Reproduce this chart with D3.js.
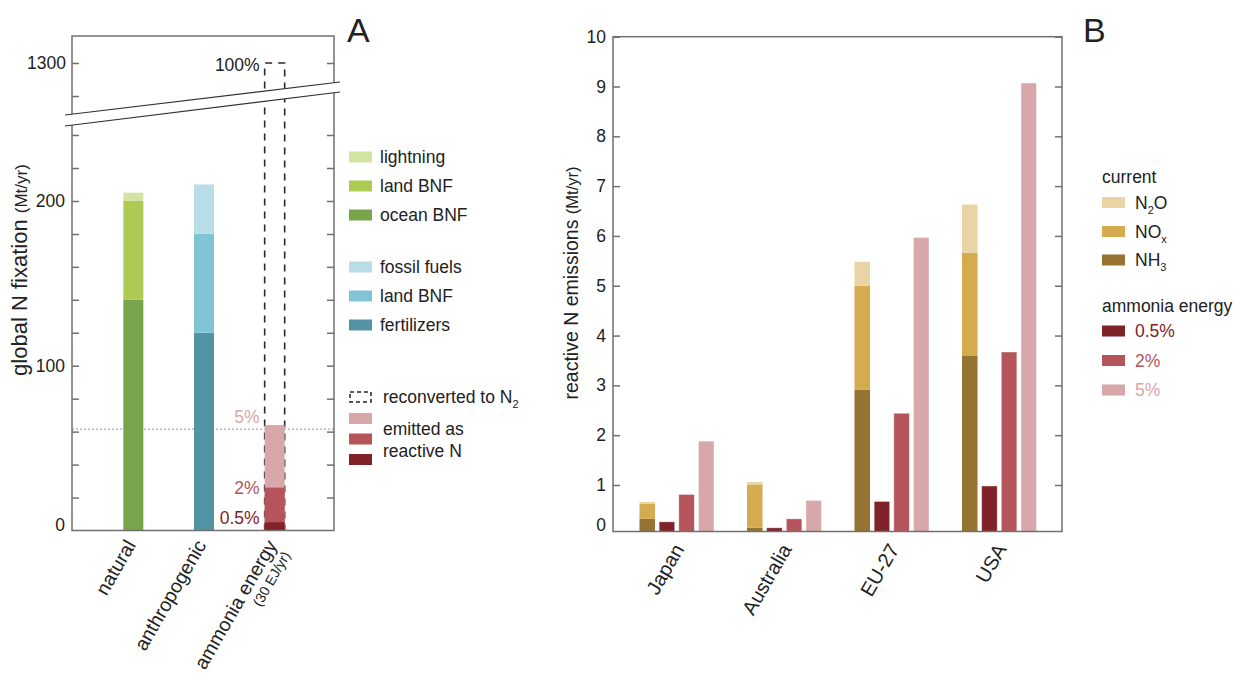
<!DOCTYPE html>
<html>
<head>
<meta charset="utf-8">
<script src="https://cdn.jsdelivr.net/npm/d3@7"></script>
<style>
  body { margin: 0; background: #fff; }
  svg text { font-family: 'Liberation Sans', Arial, sans-serif; fill: #222; }
</style>
</head>
<body>
<div id="chart"></div>
<script>
// #Panel A data: global N fixation (Mt/yr)
const fixCats = ['natural', 'anthropogenic', 'ammonia energy'];
const naturalParts = ['ocean BNF', 'land BNF', 'lightning'];
const naturalVals = [140, 60, 5];
const anthroParts = ['fertilizers', 'land BNF', 'fossil fuels'];
const anthroVals = [120, 60, 30];
const emitShares = ['5%', '2%', '0.5%'];
const emitVals = [64, 26, 5];
const reconvertedTotal = 1300;
const refLevel = 61.5;
const lowTicks = d3.range(0, 241, 20);
const lowLabels = [0, 100, 200];
const highTicks = [1280, 1300];
const highLabels = [1300];

// #Panel B data: reactive N emissions (Mt/yr)
const regions = ['Japan', 'Australia', 'EU-27', 'USA'];
const currentParts = ['NH3', 'NOx', 'N2O'];
const nh3 = [0.32, 0.14, 2.91, 3.59];
const nox = [0.30, 0.86, 2.09, 2.07];
const n2o = [0.04, 0.06, 0.48, 0.97];
const ammoniaShares = ['0.5%', '2%', '5%'];
const ae05 = [0.26, 0.14, 0.67, 0.98];
const ae2 = [0.81, 0.32, 2.44, 3.67];
const ae5 = [1.88, 0.69, 5.97, 9.07];
const emTicks = d3.range(1, 11);

// colours
const naturalColors = ['#78a44c', '#adcb52', '#d3e3a1'];
const anthroColors = ['#5493a4', '#81c4d6', '#b8dde7'];
const shareColors = {'0.5%': '#7f2229', '2%': '#b5545b', '5%': '#d8a7aa'};
const currentColors = {NH3: '#957332', NOx: '#d4ab4e', N2O: '#e8d4a4'};
const frameColor = '#707070';

const w = 1234;
const h = 680;
const svg = d3.select('#chart').append('svg').attr('width', w).attr('height', h);
const defs = svg.append('defs');

// ==================== Panel A ====================
const A = {left: 72, right: 334, top: 36, bottom: 530.5};
const xA = d3.scalePoint().domain(fixCats).range([98, 310]).padding(0.5);
const barA = 20;
const yLow = d3.scaleLinear().domain([0, 240]).range([A.bottom, 135]);
const yHigh = d3.scaleLinear().domain([1280, 1300]).range([96, 63]);

// axis break (two slanted lines)
const brk1 = x => 115 - (x - 65) * 33 / 275;
const brk2 = x => 126 - (x - 65) * 34 / 275;

defs.append('clipPath').attr('id', 'clipLow').append('polygon')
    .attr('points', [[A.left, A.bottom], [A.right, A.bottom], [A.right, brk2(A.right)], [A.left, brk2(A.left)]].join(' '));
defs.append('clipPath').attr('id', 'clipHigh').append('polygon')
    .attr('points', [[A.left, A.top], [A.right, A.top], [A.right, brk1(A.right)], [A.left, brk1(A.left)]].join(' '));

const gA = svg.append('g');

// dotted reference line
gA.append('line')
  .attr('x1', A.left).attr('x2', A.right)
  .attr('y1', yLow(refLevel)).attr('y2', yLow(refLevel))
  .attr('stroke', '#a8a8a8').attr('stroke-width', 1.2).attr('stroke-dasharray', '2,2');

// dashed box: reconverted to N2 (100%)
const xAm = xA('ammonia energy');
gA.append('path')
  .attr('d', `M${xAm - barA / 2},${yLow(0)}V${yHigh(reconvertedTotal)}H${xAm + barA / 2}V${yLow(0)}`)
  .attr('fill', 'none').attr('stroke', '#2a2a2a').attr('stroke-width', 1.6)
  .attr('stroke-dasharray', '7,6');

// stacked bars
function drawStack(cat, parts, vals, colors) {
  const row = Object.fromEntries(parts.map((p, i) => [p, vals[i]]));
  const series = d3.stack().keys(parts)([row]);
  gA.append('g').selectAll('rect')
    .data(series)
    .enter()
    .append('rect')
    .attr('x', xA(cat) - barA / 2)
    .attr('width', barA)
    .attr('y', s => yLow(s[0][1]))
    .attr('height', s => yLow(s[0][0]) - yLow(s[0][1]))
    .attr('fill', (s, i) => colors[i]);
}
drawStack('natural', naturalParts, naturalVals, naturalColors);
drawStack('anthropogenic', anthroParts, anthroVals, anthroColors);

// emitted as reactive N (overlapping bars from 0)
gA.append('g').selectAll('rect')
  .data(emitShares)
  .enter()
  .append('rect')
  .attr('x', xAm - barA / 2)
  .attr('width', barA)
  .attr('y', (d, i) => yLow(emitVals[i]))
  .attr('height', (d, i) => yLow(0) - yLow(emitVals[i]))
  .attr('fill', d => shareColors[d]);

// share labels next to the bar
const shareDy = {'5%': -8, '2%': 0, '0.5%': -4};
gA.append('g').selectAll('text')
  .data(emitShares)
  .enter()
  .append('text')
  .attr('x', xAm - barA / 2 - 5)
  .attr('y', (d, i) => yLow(emitVals[i]) + shareDy[d])
  .attr('dy', '0.35em')
  .attr('text-anchor', 'end')
  .style('font-size', '17.5px')
  .style('fill', d => shareColors[d])
  .text(d => d);

gA.append('text')
  .attr('x', xAm - barA / 2 - 5)
  .attr('y', yHigh(reconvertedTotal) + 2)
  .attr('dy', '0.35em')
  .attr('text-anchor', 'end')
  .style('font-size', '17.5px')
  .text('100%');

// frame + break
gA.append('rect')
  .attr('x', A.left).attr('y', A.top)
  .attr('width', A.right - A.left).attr('height', A.bottom - A.top)
  .attr('fill', 'none').attr('stroke', frameColor).attr('stroke-width', 1.5);
gA.append('polygon')
  .attr('points', [[60, brk1(60)], [346, brk1(346)], [346, brk2(346)], [60, brk2(60)]].join(' '))
  .attr('fill', '#fff');
[brk1, brk2].forEach(f => {
  gA.append('line')
    .attr('x1', 65).attr('y1', f(65)).attr('x2', 340).attr('y2', f(340))
    .attr('stroke', '#333').attr('stroke-width', 1.2);
});

// ticks (inward, both sides), clipped to each axis segment
function styleAxis(g) {
  g.select('.domain').remove();
  g.selectAll('line').attr('stroke', frameColor).attr('stroke-width', 1.5);
  g.selectAll('text').style('font-size', '17.5px').style('fill', '#222');
}
const lowT = gA.append('g').attr('clip-path', 'url(#clipLow)');
lowT.append('g').attr('transform', `translate(${A.left},0)`)
    .call(d3.axisLeft(yLow).tickValues(lowTicks).tickSize(-7).tickFormat('')).call(styleAxis);
lowT.append('g').attr('transform', `translate(${A.right},0)`)
    .call(d3.axisRight(yLow).tickValues(lowTicks).tickSize(-7).tickFormat('')).call(styleAxis);
const highT = gA.append('g').attr('clip-path', 'url(#clipHigh)');
highT.append('g').attr('transform', `translate(${A.left},0)`)
    .call(d3.axisLeft(yHigh).tickValues(highTicks).tickSize(-7).tickFormat('')).call(styleAxis);
highT.append('g').attr('transform', `translate(${A.right},0)`)
    .call(d3.axisRight(yHigh).tickValues(highTicks).tickSize(-7).tickFormat('')).call(styleAxis);

// tick labels
const lowLab = gA.append('g').attr('transform', `translate(${A.left},0)`)
    .call(d3.axisLeft(yLow).tickValues(lowLabels).tickSize(0).tickPadding(7).tickFormat(d3.format('d'))).call(styleAxis);
lowLab.selectAll('.tick').filter(d => d === 0).select('text').attr('y', -6);
gA.append('g').attr('transform', `translate(${A.left},0)`)
    .call(d3.axisLeft(yHigh).tickValues(highLabels).tickSize(0).tickPadding(6).tickFormat(d3.format('d'))).call(styleAxis);

// category labels
const catA = gA.append('g').selectAll('g')
  .data(fixCats)
  .enter()
  .append('g')
  .attr('transform', d => `translate(${xA(d) + 3},545) rotate(-60)`);
catA.append('text')
  .attr('text-anchor', 'end')
  .style('font-size', '19.5px')
  .text(d => d);
catA.filter(d => d === 'ammonia energy').append('text')
  .attr('x', -2).attr('y', 16.5)
  .attr('text-anchor', 'end')
  .style('font-size', '14px')
  .text('(30 EJ/yr)');

// y title
const titleA = gA.append('text')
  .attr('transform', 'translate(27,270) rotate(-90)')
  .attr('text-anchor', 'middle')
  .style('font-size', '22px');
titleA.append('tspan').text('global N fixation ');
titleA.append('tspan').style('font-size', '17px').text('(Mt/yr)');

gA.append('text').attr('x', 347).attr('y', 42).style('font-size', '34px').text('A');

// legend A
const legA = [
  {label: 'lightning', color: naturalColors[2], y: 157},
  {label: 'land BNF', color: naturalColors[1], y: 186},
  {label: 'ocean BNF', color: naturalColors[0], y: 215},
  {label: 'fossil fuels', color: anthroColors[2], y: 267},
  {label: 'land BNF', color: anthroColors[1], y: 296},
  {label: 'fertilizers', color: anthroColors[0], y: 325}
];
const legAg = gA.append('g').selectAll('g')
  .data(legA)
  .enter()
  .append('g')
  .attr('transform', d => `translate(349,${d.y})`);
legAg.append('rect').attr('y', -5.5).attr('width', 23).attr('height', 11).attr('fill', d => d.color);
legAg.append('text').attr('x', 31).attr('dy', '0.35em').style('font-size', '17.5px').text(d => d.label);

// reconverted / emitted legend
gA.append('rect').attr('x', 350).attr('y', 392).attr('width', 21).attr('height', 10)
  .attr('fill', 'none').attr('stroke', '#222').attr('stroke-width', 1.5).attr('stroke-dasharray', '4,3');
const recT = gA.append('text').attr('x', 383).attr('y', 397).attr('dy', '0.35em').style('font-size', '17.5px');
recT.append('tspan').text('reconverted to N');
recT.append('tspan').attr('dy', 5).style('font-size', '11px').text('2');
gA.append('g').selectAll('rect')
  .data(emitShares)
  .enter()
  .append('rect')
  .attr('x', 349)
  .attr('y', (d, i) => 413 + i * 20.5)
  .attr('width', 23).attr('height', 11)
  .attr('fill', d => shareColors[d]);
gA.append('text').attr('x', 383).attr('y', 429).attr('dy', '0.35em').style('font-size', '17.5px').text('emitted as');
gA.append('text').attr('x', 383).attr('y', 451).attr('dy', '0.35em').style('font-size', '17.5px').text('reactive N');

// ==================== Panel B ====================
const B = {left: 613, right: 1062, top: 36.7, bottom: 531.5};
const xB = d3.scaleBand().domain(regions).range([623, 1053]);
const subKeys = ['current'].concat(ammoniaShares);
const xSub = d3.scaleBand().domain(subKeys).range([-37.25, 37.25]).paddingInner(0.21);
const yB = d3.scaleLinear().domain([0.066, 10]).range([B.bottom, B.top]);
const cx = r => xB(r) + xB.bandwidth() / 2;

defs.append('clipPath').attr('id', 'clipB').append('rect')
    .attr('x', B.left).attr('y', B.top).attr('width', B.right - B.left).attr('height', B.bottom - B.top);

const gB = svg.append('g');
const barsB = gB.append('g').attr('clip-path', 'url(#clipB)');

// current emissions, stacked
const currentTable = regions.map((r, i) => ({region: r, NH3: nh3[i], NOx: nox[i], N2O: n2o[i]}));
const currentSeries = d3.stack().keys(currentParts)(currentTable);
barsB.append('g').selectAll('g')
  .data(currentSeries)
  .enter()
  .append('g')
  .attr('fill', s => currentColors[s.key])
  .selectAll('rect')
  .data(s => s)
  .enter()
  .append('rect')
  .attr('x', d => cx(d.data.region) + xSub('current'))
  .attr('width', xSub.bandwidth())
  .attr('y', d => yB(d[1]))
  .attr('height', d => yB(d[0]) - yB(d[1]));

// ammonia energy scenarios
const shareVals = {'0.5%': ae05, '2%': ae2, '5%': ae5};
ammoniaShares.forEach(s => {
  barsB.append('g').selectAll('rect')
    .data(regions)
    .enter()
    .append('rect')
    .attr('x', r => cx(r) + xSub(s))
    .attr('width', xSub.bandwidth())
    .attr('y', (r, i) => yB(shareVals[s][i]))
    .attr('height', (r, i) => yB(0) - yB(shareVals[s][i]))
    .attr('fill', shareColors[s])
    .attr('stroke', '#fff').attr('stroke-opacity', 0.5).attr('stroke-width', 0.8);
});

// frame
gB.append('rect')
  .attr('x', B.left).attr('y', B.top)
  .attr('width', B.right - B.left).attr('height', B.bottom - B.top)
  .attr('fill', 'none').attr('stroke', frameColor).attr('stroke-width', 1.5);

// axes
gB.append('g').attr('transform', `translate(${B.left},0)`)
  .call(d3.axisLeft(yB).tickValues(emTicks).tickSize(-7).tickPadding(7)).call(styleAxis);
gB.append('g').attr('transform', `translate(${B.right},0)`)
  .call(d3.axisRight(yB).tickValues(emTicks).tickSize(-7).tickFormat('')).call(styleAxis);
gB.append('text')
  .attr('x', B.left - 7).attr('y', B.bottom - 6).attr('dy', '0.32em')
  .attr('text-anchor', 'end').style('font-size', '17.5px').text('0');

// region labels
gB.append('g').selectAll('text')
  .data(regions)
  .enter()
  .append('text')
  .attr('transform', r => `translate(${cx(r) + 8},549) rotate(-60)`)
  .attr('text-anchor', 'end')
  .style('font-size', '20px')
  .text(r => r);

// y title
const titleB = gB.append('text')
  .attr('transform', 'translate(578,283) rotate(-90)')
  .attr('text-anchor', 'middle')
  .style('font-size', '19.5px');
titleB.append('tspan').text('reactive N emissions ');
titleB.append('tspan').style('font-size', '16.5px').text('(Mt/yr)');

gB.append('text').attr('x', 1083).attr('y', 42).style('font-size', '34px').text('B');

// legend B
gB.append('text').attr('x', 1102).attr('y', 177).attr('dy', '0.35em').style('font-size', '17.5px').text('current');
const legCur = [
  {key: 'N2O', main: 'N', sub: '2', tail: 'O', y: 202.5},
  {key: 'NOx', main: 'NO', sub: 'x', tail: '', y: 231.5},
  {key: 'NH3', main: 'NH', sub: '3', tail: '', y: 260}
];
const legCurG = gB.append('g').selectAll('g')
  .data(legCur)
  .enter()
  .append('g')
  .attr('transform', d => `translate(1102,${d.y})`);
legCurG.append('rect').attr('y', -5.5).attr('width', 23).attr('height', 11).attr('fill', d => currentColors[d.key]);
const legCurT = legCurG.append('text').attr('x', 33).attr('dy', '0.35em').style('font-size', '17.5px');
legCurT.append('tspan').text(d => d.main);
legCurT.append('tspan').attr('dy', 5).style('font-size', '11px').text(d => d.sub);
legCurT.append('tspan').attr('dy', -5).text(d => d.tail);

gB.append('text').attr('x', 1102).attr('y', 306).attr('dy', '0.35em').style('font-size', '17.5px').text('ammonia energy');
const legAm = gB.append('g').selectAll('g')
  .data(ammoniaShares)
  .enter()
  .append('g')
  .attr('transform', (d, i) => `translate(1102,${331 + i * 29.5})`);
legAm.append('rect').attr('y', -5.5).attr('width', 23).attr('height', 11).attr('fill', d => shareColors[d]);
legAm.append('text').attr('x', 33).attr('dy', '0.35em').style('font-size', '17.5px')
  .style('fill', d => shareColors[d]).text(d => d);
</script>
</body>
</html>
